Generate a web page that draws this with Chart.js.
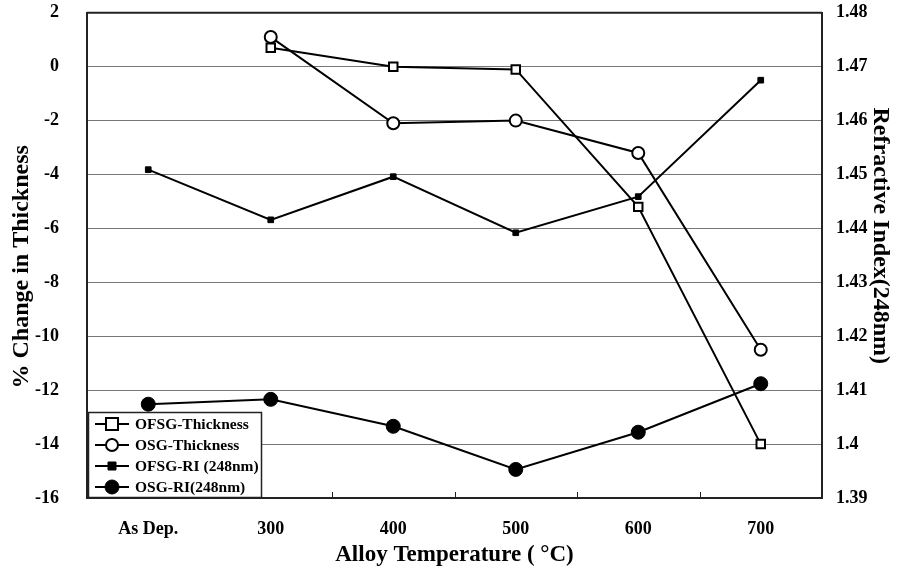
<!DOCTYPE html>
<html>
<head>
<meta charset="utf-8">
<script src="https://cdn.jsdelivr.net/npm/chart.js@4/dist/chart.umd.min.js"></script>
<style>
  html, body { margin: 0; padding: 0; background: #fff; }
  #wrap { width: 902px; height: 573px; position: relative; overflow: hidden; }
  #riChart { position: absolute; left: 0; top: -26px; }
</style>
</head>
<body>
<div id="wrap"><canvas id="riChart" width="902" height="599"></canvas></div>
<script>
const temperaturas = ['As Dep.', '300', '400', '500', '600', '700'];

const ofsgEspesor = [null, 0.7, 0.0, -0.1, -5.2, -14.0];
const osgEspesor = [null, 1.1, -2.1, -2.0, -3.2, -10.5];
const ofsgIndice = [1.4509, 1.4416, 1.4496, 1.4392, 1.4459, 1.4675];
const osgIndice = [1.4074, 1.4083, 1.4033, 1.3953, 1.4022, 1.4112];

const ticksIzq = [2, 0, -2, -4, -6, -8, -10, -12, -14, -16];
const ticksDer = [1.48, 1.47, 1.46, 1.45, 1.44, 1.43, 1.42, 1.41, 1.40, 1.39];

const tituloIzq = '% Change in Thickness';
const tituloDer = 'Refractive Index(248nm)';

const fuente = 'Liberation Serif, Times New Roman, serif';

// marcas del eje x hacia arriba, borde superior y títulos verticales
const marcasX = {
    id: 'marcasX',
    afterDatasetsDraw(chart) {
        const x = chart.scales.x;
        const area = chart.chartArea;
        const ctx = chart.ctx;
        ctx.save();
        ctx.strokeStyle = '#222';
        ctx.lineWidth = 1;
        ctx.beginPath();
        for (let i = 1; i < temperaturas.length; i++) {
            const px = Math.round((x.getPixelForTick(i - 1) + x.getPixelForTick(i)) / 2) + 0.5;
            ctx.moveTo(px, area.bottom);
            ctx.lineTo(px, area.bottom - 6);
        }
        ctx.stroke();
        ctx.lineWidth = 2;
        ctx.beginPath();
        ctx.moveTo(area.left, area.top);
        ctx.lineTo(area.right, area.top);
        ctx.stroke();

        ctx.fillStyle = '#000';
        ctx.font = 'bold 24px ' + fuente;
        ctx.textAlign = 'center';
        ctx.textBaseline = 'middle';
        ctx.save();
        ctx.translate(22, area.top + 254);
        ctx.rotate(-Math.PI / 2);
        ctx.fillText(tituloIzq, 0, 0);
        ctx.restore();
        ctx.save();
        ctx.translate(880, area.top + 223);
        ctx.rotate(Math.PI / 2);
        ctx.fillText(tituloDer, 0, 0);
        ctx.restore();
        ctx.restore();
    }
};

function marcador(ctx, estilo, r, x, y) {
    ctx.beginPath();
    if (estilo === 'rect') {
        ctx.rect(x - r, y - r, 2 * r, 2 * r);
    } else {
        ctx.arc(x, y, r, 0, Math.PI * 2);
    }
}

// leyenda dentro del área, abajo a la izquierda
const leyenda = {
    id: 'leyenda',
    afterDraw(chart) {
        const ctx = chart.ctx;
        const area = chart.chartArea;
        const w = 174, h = 86;
        const x0 = area.left + 1, y0 = area.bottom - h;
        ctx.save();
        ctx.fillStyle = '#fff';
        ctx.fillRect(x0, y0, w, h);
        ctx.strokeStyle = '#222';
        ctx.lineWidth = 1.5;
        ctx.strokeRect(x0 + 0.5, y0 + 0.5, w - 1, h - 1);
        ctx.font = 'bold 15.5px ' + fuente;
        ctx.textBaseline = 'middle';
        chart.data.datasets.forEach((ds, i) => {
            const y = y0 + 12 + i * 21;
            ctx.strokeStyle = '#000';
            ctx.lineWidth = 2;
            ctx.beginPath();
            ctx.moveTo(x0 + 7, y);
            ctx.lineTo(x0 + 41, y);
            ctx.stroke();
            marcador(ctx, ds.pointStyle, ds.pointRadius, x0 + 24, y);
            ctx.fillStyle = ds.pointBackgroundColor;
            ctx.fill();
            ctx.lineWidth = ds.pointBorderWidth;
            ctx.stroke();
            ctx.fillStyle = '#000';
            ctx.fillText(ds.label, x0 + 47, y + 1);
        });
        ctx.restore();
    }
};

const ctx = document.getElementById('riChart').getContext('2d');

new Chart(ctx, {
    type: 'line',
    data: {
        labels: temperaturas,
        datasets: [{
            label: 'OFSG-Thickness',
            data: ofsgEspesor,
            yAxisID: 'y',
            borderColor: '#000',
            borderWidth: 2,
            pointStyle: 'rect',
            pointRadius: 6,
            pointBorderWidth: 2,
            pointBorderColor: '#000',
            pointBackgroundColor: '#fff',
            spanGaps: true
        }, {
            label: 'OSG-Thickness',
            data: osgEspesor,
            yAxisID: 'y',
            borderColor: '#000',
            borderWidth: 2,
            pointStyle: 'circle',
            pointRadius: 6,
            pointBorderWidth: 2,
            pointBorderColor: '#000',
            pointBackgroundColor: '#fff',
            spanGaps: true
        }, {
            label: 'OFSG-RI (248nm)',
            data: ofsgIndice,
            yAxisID: 'y1',
            borderColor: '#000',
            borderWidth: 2,
            pointStyle: 'rect',
            pointRadius: 4,
            pointBorderWidth: 1,
            pointBorderColor: '#000',
            pointBackgroundColor: '#000'
        }, {
            label: 'OSG-RI(248nm)',
            data: osgIndice,
            yAxisID: 'y1',
            borderColor: '#000',
            borderWidth: 2,
            pointStyle: 'circle',
            pointRadius: 7,
            pointBorderWidth: 1,
            pointBorderColor: '#000',
            pointBackgroundColor: '#000'
        }]
    },
    options: {
        responsive: false,
        animation: false,
        layout: { padding: { top: 12, left: 0, right: 0, bottom: 0 } },
        plugins: {
            legend: { display: false },
            tooltip: { enabled: false }
        },
        scales: {
            x: {
                offset: true,
                grid: { display: false },
                border: { color: '#222', width: 2 },
                ticks: {
                    color: '#000',
                    padding: 13,
                    font: { family: fuente, size: 18, weight: 'bold' }
                },
                title: {
                    display: true,
                    text: 'Alloy Temperature ( \u00B0C)',
                    color: '#000',
                    padding: { top: 2 },
                    font: { family: fuente, size: 23, weight: 'bold' }
                },
                afterFit: s => { s.height = 75; }
            },
            y: {
                position: 'left',
                min: -16,
                max: 2,
                afterBuildTicks: s => { s.ticks = ticksIzq.map(v => ({ value: v })); },
                grid: {
                    color: '#777',
                    lineWidth: 1,
                    drawTicks: false
                },
                border: { color: '#222', width: 2 },
                ticks: {
                    color: '#000',
                    padding: 28,
                    font: { family: fuente, size: 18, weight: 'bold' }
                },
                afterFit: s => { s.width = 87; }
            },
            y1: {
                position: 'right',
                min: 1.39,
                max: 1.48,
                afterBuildTicks: s => { s.ticks = ticksDer.map(v => ({ value: v })); },
                grid: { display: false, drawTicks: false },
                border: { color: '#222', width: 2 },
                ticks: {
                    color: '#000',
                    padding: 14,
                    font: { family: fuente, size: 18, weight: 'bold' },
                    callback: v => String(Number(v.toFixed(2)))
                },
                afterFit: s => { s.width = 80; }
            }
        }
    },
    plugins: [marcasX, leyenda]
});
</script>
</body>
</html>
